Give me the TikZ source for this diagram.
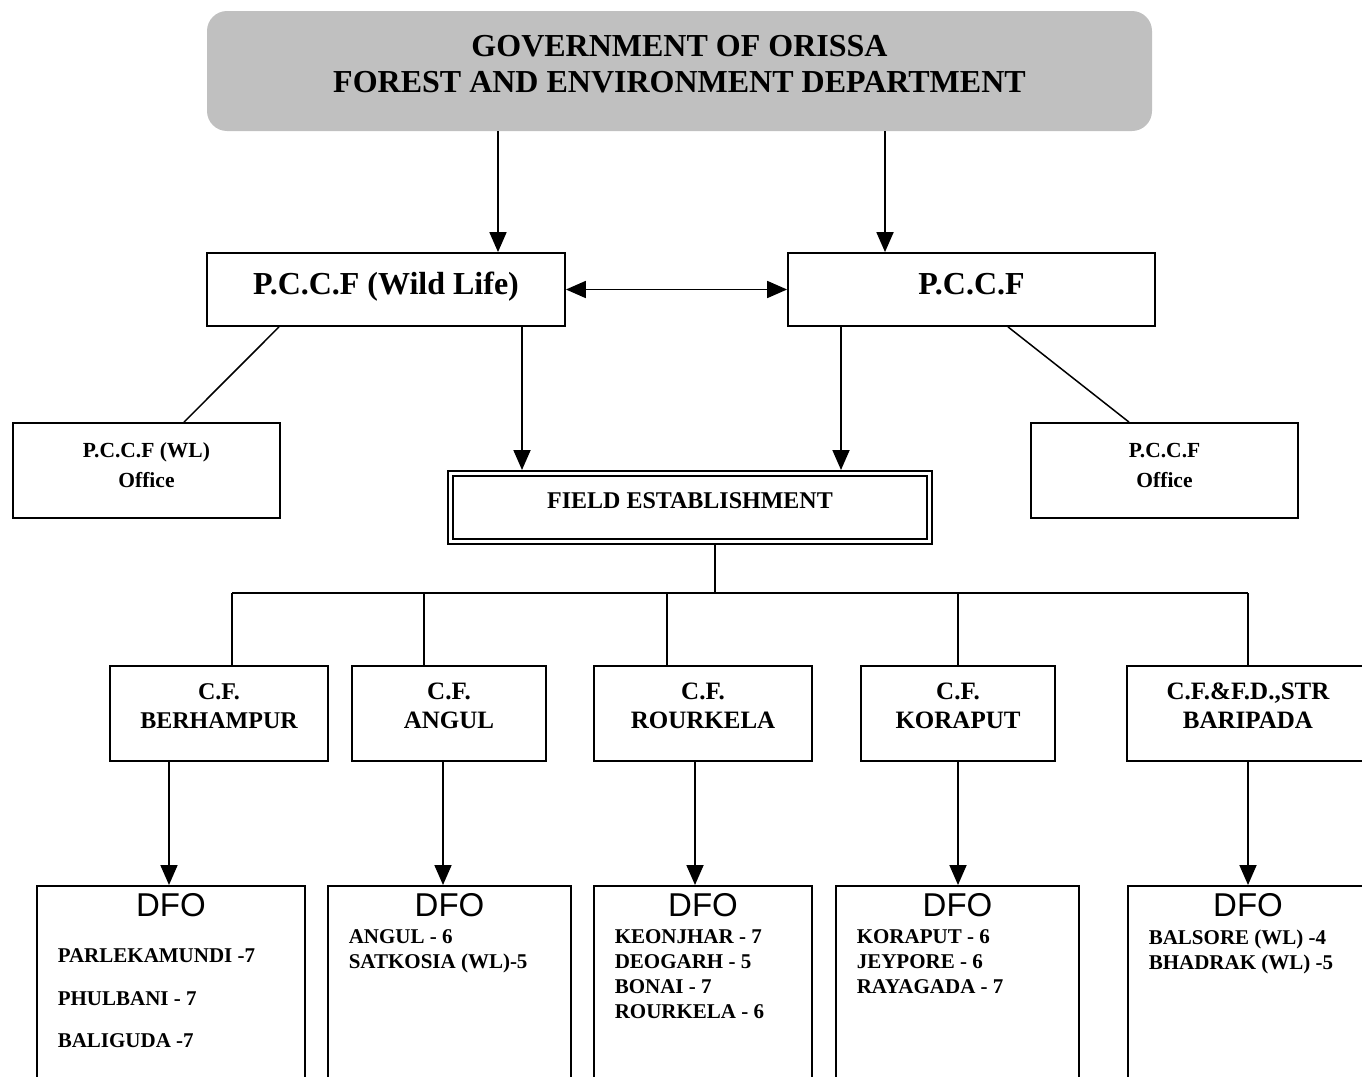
\documentclass[tikz,border=0pt]{standalone}
\usepackage{fontspec}
\setmainfont{Liberation Serif}
\newfontfamily\dfofont{Liberation Sans}
\usetikzlibrary{shapes, arrows.meta, positioning}
\definecolor{govgray}{HTML}{C0C0C0}
\tikzstyle{govbox} = [rectangle, rounded corners=20pt, fill=govgray, minimum width=945pt, minimum height=120pt, align=center, font=\bfseries\fontsize{32}{36}\selectfont, text depth=14pt]
\tikzstyle{pccfbox} = [draw, line width=1.8pt, minimum height=73pt, font=\bfseries\fontsize{32}{36}\selectfont, text height=22pt, text depth=13pt]
\tikzstyle{officebox} = [draw, line width=1.8pt, minimum width=267pt, minimum height=95pt, align=center, font=\bfseries\fontsize{21.5}{30}\selectfont, text depth=10pt]
\tikzstyle{fieldbox} = [draw, line width=2pt, double=white, double distance=3pt, outer sep=3.5pt, minimum width=479pt, minimum height=68pt, font=\bfseries\fontsize{24}{28}\selectfont, text depth=13pt]
\tikzstyle{cfbox} = [draw, line width=1.8pt, minimum height=95pt, align=center, font=\bfseries\fontsize{25}{29}\selectfont, text depth=15pt]
\tikzstyle{dfobox} = [draw, line width=1.8pt, minimum height=260pt, anchor=north]
\tikzstyle{dfohead} = [inner sep=0pt, font=\dfofont\fontsize{33}{36}\selectfont]
\tikzstyle{dfolist} = [inner sep=0pt, align=left, font=\bfseries\fontsize{21}{25}\selectfont]
\tikzstyle{arr} = [line width=1.8pt, -{Triangle[length=20pt, width=17pt]}]
\tikzstyle{dblarr} = [line width=1.8pt, {Triangle[length=20pt, width=17pt]}-{Triangle[length=20pt, width=17pt]}]
\tikzstyle{link} = [line width=1.5pt]
\tikzstyle{bus} = [line width=1.8pt]

\begin{document}
\begin{tikzpicture}[x=1pt, y=-1pt]
  \useasboundingbox (0,0) rectangle (1362,1076);

  % government
  \node[govbox] (gov) at (679.5,71) {GOVERNMENT OF ORISSA\\FOREST AND ENVIRONMENT DEPARTMENT};

  % P.C.C.F
  \node[pccfbox, minimum width=358pt] (pwl) at (386,289.5) {P.C.C.F (Wild Life)};
  \node[pccfbox, minimum width=367pt] (pccf) at (971.5,289.5) {P.C.C.F};

  % offices
  \node[officebox] (pwlo) at (146.5,470.5) {P.C.C.F (WL)\\Office};
  \node[officebox] (pco) at (1164.5,470.5) {P.C.C.F\\Office};

  % field establishment
  \node[fieldbox] (field) at (690,507.5) {FIELD ESTABLISHMENT};

  % C.F.
  \node[cfbox, minimum width=218pt, font=\bfseries\fontsize{24}{29}\selectfont] (cfber) at (219,713.5) {C.F.\\BERHAMPUR};
  \node[cfbox, minimum width=194pt] (cfang) at (449,713.5) {C.F.\\ANGUL};
  \node[cfbox, minimum width=218pt] (cfrou) at (703,713.5) {C.F.\\ROURKELA};
  \node[cfbox, minimum width=194pt] (cfkor) at (958,713.5) {C.F.\\KORAPUT};
  \node[cfbox, minimum width=242pt] (cfbar) at (1248,713.5) {C.F.\&F.D.,STR\\BARIPADA};

  % DFO
  \node[dfobox, minimum width=268pt] (dfober) at (171,885) {};
  \node[dfobox, minimum width=243pt] (dfoang) at (449.5,885) {};
  \node[dfobox, minimum width=218pt] (dforou) at (703,885) {};
  \node[dfobox, minimum width=243pt] (dfokor) at (957.5,885) {};
  \node[dfobox, minimum width=240pt] (dfobar) at (1248,885) {};

  \node[dfohead, below=8.5pt of dfober.north] (hber) {DFO};
  \node[dfohead, below=8.5pt of dfoang.north] (hang) {DFO};
  \node[dfohead, below=8.5pt of dforou.north] (hrou) {DFO};
  \node[dfohead, below=8.5pt of dfokor.north] (hkor) {DFO};
  \node[dfohead, below=8.5pt of dfobar.north] (hbar) {DFO};

  \node[dfolist, font=\bfseries\fontsize{21}{42.5}\selectfont, below right=63.8pt and 21.5pt of dfober.north west] (lber) {PARLEKAMUNDI -7\\PHULBANI - 7\\BALIGUDA -7};
  \node[dfolist, below right=44.8pt and 21.5pt of dfoang.north west] (lang) {ANGUL - 6\\SATKOSIA (WL)-5};
  \node[dfolist, below right=44.8pt and 21.5pt of dforou.north west] (lrou) {KEONJHAR - 7\\DEOGARH - 5\\BONAI - 7\\ROURKELA - 6};
  \node[dfolist, below right=44.8pt and 21.5pt of dfokor.north west] (lkor) {KORAPUT - 6\\JEYPORE - 6\\RAYAGADA - 7};
  \node[dfolist, below right=44.8pt and 21.5pt of dfobar.north west] (lbar) {BALSORE (WL) -4\\BHADRAK (WL) -5};

  % government to P.C.C.F
  \coordinate (g1) at ([xshift=112pt]pwl.north);
  \coordinate (g2) at ([xshift=-86.5pt]pccf.north);
  \draw[arr] (g1 |- gov.south) -- (g1);
  \draw[arr] (g2 |- gov.south) -- (g2);
  \draw[dblarr] (pwl.east) -- (pccf.west);

  % offices
  \draw[link] ([xshift=-107pt]pwl.south) -- ([xshift=37.5pt]pwlo.north);
  \draw[link] ([xshift=36.5pt]pccf.south) -- ([xshift=-35.5pt]pco.north);

  % P.C.C.F to field
  \coordinate (f1) at ([xshift=136pt]pwl.south);
  \coordinate (f2) at ([xshift=-130.5pt]pccf.south);
  \draw[arr] (f1) -- (f1 |- field.north);
  \draw[arr] (f2) -- (f2 |- field.north);

  % field to C.F.
  \coordinate (down) at ([xshift=25pt]field.south);
  \coordinate (jber) at (232,593);
  \coordinate (jang) at (424,593);
  \coordinate (jrou) at (667,593);
  \coordinate (jkor) at (958,593);
  \coordinate (jbar) at (1248,593);
  \draw[bus] (down) -- (down |- jber);
  \draw[bus] (jber) -- (jbar);
  \draw[bus] (jber) -- (jber |- cfber.north);
  \draw[bus] (jang) -- (jang |- cfang.north);
  \draw[bus] (jrou) -- (jrou |- cfrou.north);
  \draw[bus] (jkor) -- (jkor |- cfkor.north);
  \draw[bus] (jbar) -- (jbar |- cfbar.north);

  % C.F. to DFO
  \coordinate (dber) at ([xshift=-2pt]dfober.north);
  \coordinate (dang) at ([xshift=-6.5pt]dfoang.north);
  \coordinate (drou) at ([xshift=-8pt]dforou.north);
  \coordinate (dkor) at ([xshift=0.5pt]dfokor.north);
  \coordinate (dbar) at (dfobar.north);
  \draw[arr] (dber |- cfber.south) -- (dber);
  \draw[arr] (dang |- cfang.south) -- (dang);
  \draw[arr] (drou |- cfrou.south) -- (drou);
  \draw[arr] (dkor |- cfkor.south) -- (dkor);
  \draw[arr] (dbar |- cfbar.south) -- (dbar);
\end{tikzpicture}
\end{document}
